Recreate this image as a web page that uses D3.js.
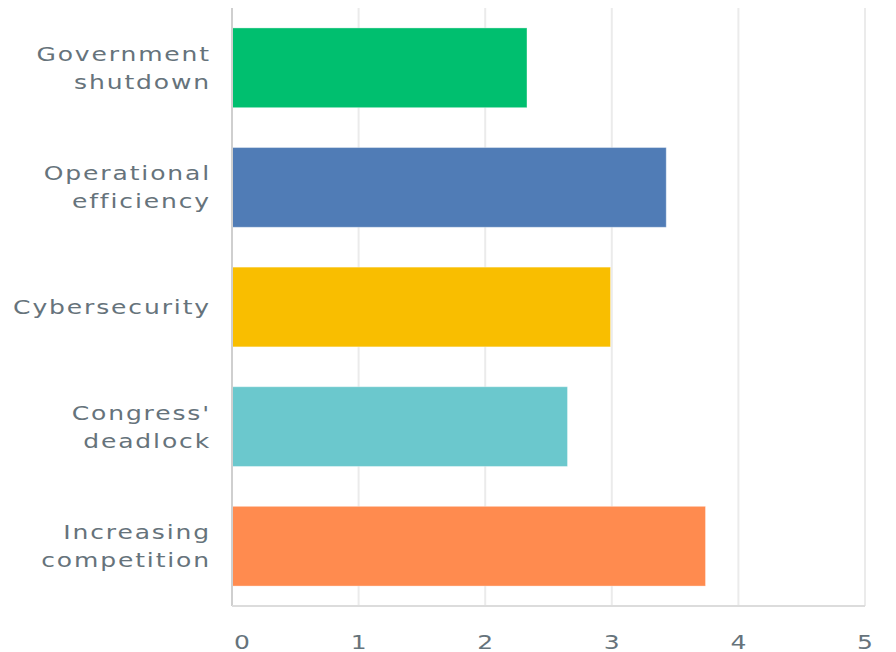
<!DOCTYPE html>
<html>
<head>
<meta charset="utf-8">
<script src="https://cdn.jsdelivr.net/npm/d3@7"></script>
<style>
  html, body { margin: 0; padding: 0; background: #fff; }
  svg { display: block; }
  .lbl { font-family: "DejaVu Sans", sans-serif; font-size: 20px; fill: #66737b; letter-spacing: 1.5px; }
  .tick-lbl { font-family: "DejaVu Sans", sans-serif; font-size: 20px; fill: #66737b; }
</style>
</head>
<body>
<svg id="chart" width="896" height="652"></svg>
<script>
// Average rating per concern
const categories = [
  ["Government", "shutdown"],
  ["Operational", "efficiency"],
  ["Cybersecurity"],
  ["Congress'", "deadlock"],
  ["Increasing", "competition"]
];
const values = [2.33, 3.43, 2.99, 2.65, 3.74];
const colors = ["#00bf6f", "#507cb6", "#f9be00", "#6bc8cd", "#ff8b4f"];
const xTicks = [0, 1, 2, 3, 4, 5];

const svg = d3.select("#chart");
const plotL = 232, plotR = 865, plotT = 8, plotB = 606;
const stretch = 1.25; // wide lettering

const keys = categories.map(c => c.join(" "));
const x = d3.scaleLinear().domain([0, 5]).range([plotL, plotR]);
const y = d3.scaleBand().domain(keys).range([plotT, plotB])
  .paddingInner(1 / 3).paddingOuter(1 / 6);

// vertical gridlines
svg.append("g").selectAll("line")
  .data(xTicks.filter(t => t > 0))
  .join("line")
  .attr("x1", d => x(d)).attr("x2", d => x(d))
  .attr("y1", plotT).attr("y2", plotB)
  .attr("stroke", "#ebebeb").attr("stroke-width", 2);

// bars
svg.append("g").selectAll("rect")
  .data(values)
  .join("rect")
  .attr("x", x(0))
  .attr("y", (d, i) => y(keys[i]))
  .attr("width", d => x(d) - x(0))
  .attr("height", y.bandwidth())
  .attr("fill", (d, i) => colors[i])
  .attr("stroke", "#ffffff").attr("stroke-opacity", 0.35).attr("stroke-width", 1);

// axis lines
svg.append("line")
  .attr("x1", plotL).attr("x2", plotL).attr("y1", plotT).attr("y2", plotB)
  .attr("stroke", "#cfcfcf").attr("stroke-width", 2);
svg.append("line")
  .attr("x1", plotL).attr("x2", plotR).attr("y1", plotB).attr("y2", plotB)
  .attr("stroke", "#dcdcdc").attr("stroke-width", 2);

// x tick labels
svg.append("g").selectAll("g")
  .data(xTicks)
  .join("g")
  .attr("transform", d => `translate(${d === 0 ? x(d) + 10 : x(d)},649) scale(${stretch},1)`)
  .append("text")
  .attr("class", "tick-lbl")
  .attr("text-anchor", "middle")
  .text(d => d);

// category labels
const lineH = 28;
const lab = svg.append("g").selectAll("g")
  .data(categories)
  .join("g")
  .attr("transform", (d, i) =>
    `translate(211,${y(keys[i]) + y.bandwidth() / 2 - (d.length - 1) * lineH / 2 + 7}) scale(${stretch},1)`)
  .append("text")
  .attr("class", "lbl")
  .attr("text-anchor", "end");
lab.selectAll("tspan")
  .data(d => d)
  .join("tspan")
  .attr("x", 0)
  .attr("dy", (d, i) => i === 0 ? 0 : lineH)
  .text(d => d);
</script>
</body>
</html>
